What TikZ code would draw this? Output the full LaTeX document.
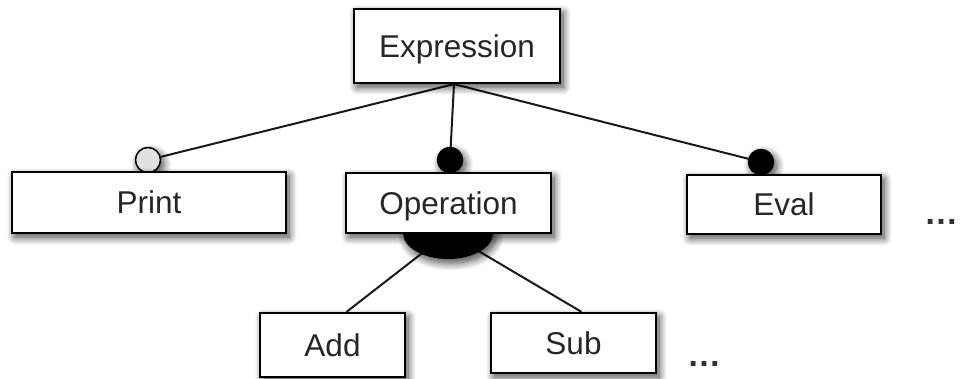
\documentclass[tikz,border=0pt]{standalone}
\usepackage{fontspec}
\setmainfont{Liberation Sans}
\usetikzlibrary{shadows.blur,shapes.geometric}
\pgfdeclarelayer{bg}
\pgfdeclarelayer{mid}
\pgfsetlayers{bg,mid,main}
\begin{document}
\begin{tikzpicture}[x=1pt,y=-1pt,
  soft/.style={blur shadow={shadow xshift=3pt, shadow yshift=-4pt, shadow blur radius=8pt, shadow opacity=75, shadow blur steps=14}},
  box/.style={draw=black, line width=2.2pt, fill=white, inner sep=0pt,
    font=\fontsize{31.5}{36}\selectfont, text=black!85, text height=22.6pt, text depth=0pt, soft},
  conn/.style={line width=2pt, draw=black!90},
  knob/.style={circle, draw=black, line width=1.5pt, minimum size=25pt, inner sep=0pt, soft},
  dotsty/.style={font=\fontsize{34}{40}\bfseries, text=black!80, inner sep=0pt, anchor=base}
]
\useasboundingbox (0,0) rectangle (961,378);

% boxes
\node[box, minimum width=206pt, minimum height=74pt] (expr) at (457,46) {Expression};
\node[box, minimum width=274pt, minimum height=61pt] (print) at (149,202.5) {Print};
\node[box, minimum width=205pt, minimum height=60pt] (oper) at (448.5,203) {Operation};
\node[box, minimum width=194pt, minimum height=59pt] (eval) at (784,204.5) {Eval};
\node[box, minimum width=145pt, minimum height=64pt] (add) at (332.5,345) {Add};
\node[box, minimum width=165pt, minimum height=60pt] (sub) at (573.5,343) {Sub};

% ellipsis texts
\node[dotsty] (d1) at (941,224) {…};
\node[dotsty] (d2) at (704,366) {…};

% knobs and group marker
\begin{pgfonlayer}{mid}
\node[knob, fill=black!12] (k1) at (148,160) {};
\node[knob, fill=black] (k2) at (450,160) {};
\node[knob, fill=black] (k3) at (761,162) {};
\node[ellipse, fill=black, minimum width=90pt, minimum height=52pt, inner sep=0pt, soft] (ell) at (448,233) {};
\end{pgfonlayer}

% connectors
\begin{pgfonlayer}{bg}
\coordinate (ej) at ([xshift=-3pt]expr.south);
\draw[conn] (ej) -- (k1);
\draw[conn] (ej) -- (k2);
\draw[conn] (ej) -- (k3);
\draw[conn] (ell.center) -- ([xshift=14pt]add.north);
\draw[conn] (ell.center) -- ([xshift=8pt]sub.north);
\end{pgfonlayer}
\end{tikzpicture}
\end{document}
